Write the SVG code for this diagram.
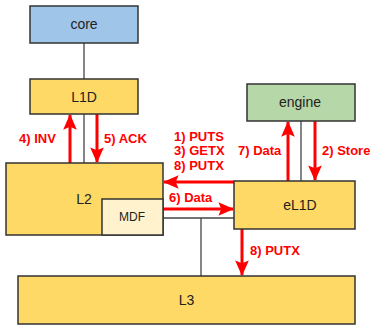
<svg xmlns="http://www.w3.org/2000/svg" width="370" height="326" viewBox="0 0 370 326">
<defs>
<style>
.box{stroke:#333;stroke-width:1.5}
.yel{fill:#ffd966}
.lbl{font-family:"Liberation Sans",Arial,sans-serif;font-size:14px;fill:#222;text-anchor:middle}
.small{font-size:12px}
.red{font-family:"Liberation Sans",Arial,sans-serif;font-size:13px;font-weight:bold;fill:#ff0000}
.wire{stroke:#444;stroke-width:1.3;fill:none}
.arr{stroke:#ff0000;stroke-width:3;fill:none;marker-end:url(#ah)}
</style>
<marker id="ah" viewBox="0 0 16 14" refX="15" refY="7" markerWidth="5.2" markerHeight="4.7" orient="auto" markerUnits="strokeWidth">
<path d="M0,0 L16,7 L0,14 L3,7 Z" fill="#ff0000"/>
</marker>
</defs>
<g id="connectors">
<line class="wire" x1="84" y1="43" x2="84" y2="79"/>
<line class="wire" x1="84" y1="114" x2="84" y2="163"/>
<line class="wire" x1="301" y1="121" x2="301" y2="181"/>
<line class="wire" x1="163" y1="218" x2="234" y2="218"/>
<line class="wire" x1="201" y1="218" x2="201" y2="276"/>
<line class="arr" x1="70" y1="163" x2="70" y2="115"/>
<line class="arr" x1="97" y1="114" x2="97" y2="162"/>
<line class="arr" x1="288" y1="181" x2="288" y2="122"/>
<line class="arr" x1="315" y1="121" x2="315" y2="180"/>
<line class="arr" x1="234" y1="182" x2="164" y2="182"/>
<line class="arr" x1="163" y1="209" x2="233" y2="209"/>
<line class="arr" x1="242" y1="229" x2="242" y2="275"/>
<text class="red" x="19" y="143">4) INV</text>
<text class="red" x="104" y="143">5) ACK</text>
<text class="red" x="174" y="141">1) PUTS</text>
<text class="red" x="174" y="155">3) GETX</text>
<text class="red" x="174" y="170">8) PUTX</text>
<text class="red" x="169" y="202">6) Data</text>
<text class="red" x="238" y="155">7) Data</text>
<text class="red" x="322" y="155">2) Store</text>
<text class="red" x="250" y="255">8) PUTX</text>
</g>
<g id="core">
<rect class="box" x="30" y="6" width="108" height="37" fill="#9fc5e8"/>
<text class="lbl" x="84" y="29">core</text>
</g>
<g id="L1D">
<rect class="box yel" x="30" y="79" width="108" height="35"/>
<text class="lbl" x="84" y="102">L1D</text>
</g>
<g id="L2">
<rect class="box yel" x="6" y="163" width="157" height="72"/>
<text class="lbl" x="84" y="204">L2</text>
</g>
<g id="MDF">
<rect class="box" x="102" y="199" width="61" height="36" fill="#fff2cc"/>
<text class="lbl small" x="132" y="221">MDF</text>
</g>
<g id="engine">
<rect class="box" x="247" y="84" width="108" height="37" fill="#b6d7a8"/>
<text class="lbl" x="300" y="107">engine</text>
</g>
<g id="eL1D">
<rect class="box yel" x="234" y="181" width="121" height="48"/>
<text class="lbl" x="300" y="210">eL1D</text>
</g>
<g id="L3">
<rect class="box yel" x="18" y="276" width="337" height="48"/>
<text class="lbl" x="186.5" y="305">L3</text>
</g>
</svg>
